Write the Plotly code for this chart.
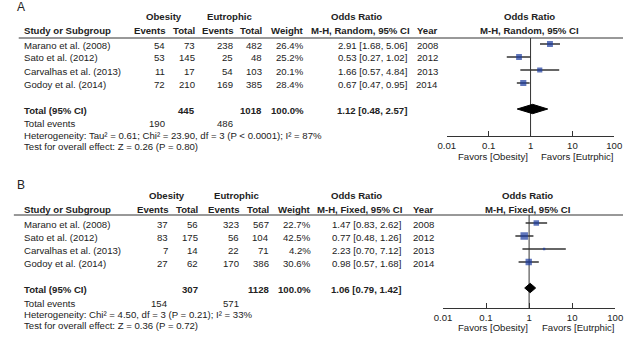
import plotly.graph_objects as go
import math

W, H = 631, 344

studies = ["Marano et al. (2008)", "Sato et al. (2012)", "Carvalhas et al. (2013)", "Godoy et al. (2014)"]
years = ["2008", "2012", "2013", "2014"]

# Panel A (random effects)
ob_events_A = [54, 53, 11, 72]
ob_total_A = [73, 145, 17, 210]
eu_events_A = [238, 25, 54, 169]
eu_total_A = [482, 48, 103, 385]
weight_A = [26.4, 25.2, 20.1, 28.4]
or_A = [2.91, 0.53, 1.66, 0.67]
lo_A = [1.68, 0.27, 0.57, 0.47]
hi_A = [5.06, 1.02, 4.84, 0.95]
tot_or_A, tot_lo_A, tot_hi_A = 1.12, 0.48, 2.57
tot_ob_total_A, tot_eu_total_A = 445, 1018
tot_ob_events_A, tot_eu_events_A = 190, 486
het_A = "Heterogeneity: Tau² = 0.61; Chi² = 23.90, df = 3 (P < 0.0001); I² = 87%"
test_A = "Test for overall effect: Z = 0.26 (P = 0.80)"

# Panel B (fixed effects)
ob_events_B = [37, 83, 7, 27]
ob_total_B = [56, 175, 14, 62]
eu_events_B = [323, 56, 22, 170]
eu_total_B = [567, 104, 71, 386]
weight_B = [22.7, 42.5, 4.2, 30.6]
or_B = [1.47, 0.77, 2.23, 0.98]
lo_B = [0.83, 0.48, 0.70, 0.57]
hi_B = [2.62, 1.26, 7.12, 1.68]
tot_or_B, tot_lo_B, tot_hi_B = 1.06, 0.79, 1.42
tot_ob_total_B, tot_eu_total_B = 307, 1128
tot_ob_events_B, tot_eu_events_B = 154, 571
het_B = "Heterogeneity: Chi² = 4.50, df = 3 (P = 0.21); I² = 33%"
test_B = "Test for overall effect: Z = 0.36 (P = 0.72)"

tick_vals = [0.01, 0.1, 1, 10, 100]
tick_text = ["0.01", "0.1", "1", "10", "100"]

FONT = "Liberation Sans, Arial, sans-serif"
TXT = "#222222"
BLUE = "#1b3a9e"
FS = 9.6

fig = go.Figure()
ann = []
shapes = []


def P(x, y):
    return x / W, 1 - y / H


def text(x, y, s, anchor="left", bold=False, size=FS):
    xp, yp = P(x, y)
    ann.append(dict(x=xp, y=yp, xref="paper", yref="paper", text=(f"<b>{s}</b>" if bold else s),
                    showarrow=False, xanchor=anchor, yanchor="middle",
                    font=dict(family=FONT, size=size, color=TXT)))


def hline(x0, x1, y, color="#333333", width=1):
    x0p, yp = P(x0, y)
    x1p, _ = P(x1, y)
    shapes.append(dict(type="line", xref="paper", yref="paper", x0=x0p, x1=x1p, y0=yp, y1=yp,
                       line=dict(color=color, width=width)))


def panel(label, yoff, top_px, cols, hdr_line_x0, row0, step, axis_y, xr, xa, ya, effect,
          studies, obe, obt, eue, eut, wt, orv, lo, hi, tor, tlo, thi, tobt, teut, tobe, teue, het, test,
          or_right, year_c, hdr_mid_c, plot_hdr_c, fav):
    c_ev1, c_t1, c_ev2, c_t2, c_w = cols
    # labels/headers
    text(6, 7 + yoff, label, size=12)
    text((c_ev1 + c_t1) / 2 - 18, 17 + yoff, "Obesity", "center", True)
    text((c_ev2 + c_t2) / 2 - 20, 17 + yoff, "Eutrophic", "center", True)
    text(13, 31 + yoff, "Study or Subgroup", "left", True)
    text(c_ev1, 31 + yoff, "Events", "right", True)
    text(c_t1, 31 + yoff, "Total", "right", True)
    text(c_ev2, 31 + yoff, "Events", "right", True)
    text(c_t2, 31 + yoff, "Total", "right", True)
    text(c_w, 31 + yoff, "Weight", "right", True)
    text(hdr_mid_c, 17 + yoff, "Odds Ratio", "center", True)
    text(hdr_mid_c + 4, 31 + yoff, f"M-H, {effect}, 95% CI", "center", True)
    text(year_c, 31 + yoff, "Year", "center", True)
    text(plot_hdr_c, 17 + yoff, "Odds Ratio", "center", True)
    text(plot_hdr_c, 31 + yoff, f"M-H, {effect}, 95% CI", "center", True)
    hline(hdr_line_x0, W, top_px)

    rows = list(range(len(studies)))
    for i in rows:
        y = row0 + step * i + 1
        text(13, y, studies[i])
        text(c_ev1, y, str(obe[i]), "right")
        text(c_t1, y, str(obt[i]), "right")
        text(c_ev2, y, str(eue[i]), "right")
        text(c_t2, y, str(eut[i]), "right")
        text(c_w, y, f"{wt[i]:.1f}%", "right")
        text(or_right, y, f"{orv[i]:.2f} [{lo[i]:.2f}, {hi[i]:.2f}]", "right")
        text(year_c, y, years[i], "center")
    tr = len(studies) + 1
    y = row0 + step * tr + 1
    text(13, y, "Total (95% CI)", "left", True)
    text(c_t1, y, str(tobt), "right", True)
    text(c_t2, y, str(teut), "right", True)
    text(c_w, y, "100.0%", "right", True)
    text(or_right, y, f"{tor:.2f} [{tlo:.2f}, {thi:.2f}]", "right", True)
    y2 = y + 14
    text(13, y2, "Total events")
    text(c_ev1, y2, str(tobe), "right")
    text(c_ev2, y2, str(teue), "right")
    text(13, y2 + 11, het)
    text(13, y2 + 22, test)
    text(fav[0], fav[2], "Favors [Obesity]", "center")
    text(fav[1], fav[2], "Favors [Eutrphic]", "center")

    # plot part
    r_top = (top_px - row0) / step
    r_bot = (axis_y - row0) / step
    xs, ys = [], []
    for i in rows:
        xs += [lo[i], hi[i], None]
        ys += [i, i, None]
    fig.add_trace(go.Scatter(x=xs, y=ys, mode="lines", line=dict(color="#333333", width=1.5),
                             xaxis=xa, yaxis=ya, hoverinfo="skip", showlegend=False))
    fig.add_trace(go.Scatter(x=[1, 1], y=[r_top, r_bot], mode="lines", line=dict(color="#333333", width=1),
                             xaxis=xa, yaxis=ya, hoverinfo="skip", showlegend=False))
    fig.add_trace(go.Scatter(x=orv, y=rows, mode="markers",
                             marker=dict(symbol="square", color=BLUE, size=[1.15 * math.sqrt(w) for w in wt],
                                         line=dict(width=0)),
                             xaxis=xa, yaxis=ya, showlegend=False))
    h = 0.36
    fig.add_trace(go.Scatter(x=[tlo, tor, thi, tor, tlo], y=[tr, tr - h, tr, tr + h, tr], mode="lines",
                             fill="toself", fillcolor="#000000", line=dict(color="#000000", width=1),
                             xaxis=xa, yaxis=ya, hoverinfo="skip", showlegend=False))
    axname = "xaxis" if xa == "x" else "xaxis" + xa[1:]
    ayname = "yaxis" if ya == "y" else "yaxis" + ya[1:]
    fig.update_layout({
        axname: dict(type="log", range=[-2, 2], domain=[xr[0] / W, xr[1] / W], anchor=ya,
                     showline=True, linecolor="#333333", linewidth=1, ticks="inside", ticklen=5,
                     tickcolor="#333333", tickvals=tick_vals, ticktext=tick_text, showgrid=False,
                     zeroline=False, tickfont=dict(family=FONT, size=FS, color=TXT), fixedrange=True),
        ayname: dict(range=[r_bot, r_top], domain=[1 - axis_y / H, 1 - top_px / H], anchor=xa,
                     visible=False, showgrid=False, zeroline=False, fixedrange=True),
    })


panel("A", 0, 38, (162, 193, 232, 262, 305), 10, 44, 13, 136, (450, 622), "x", "y", "Random",
      studies, ob_events_A, ob_total_A, eu_events_A, eu_total_A, weight_A, or_A, lo_A, hi_A,
      tot_or_A, tot_lo_A, tot_hi_A, tot_ob_total_A, tot_eu_total_A, tot_ob_events_A, tot_eu_events_A,
      het_A, test_A, 411, 430, 357, 535, (497, 584, 157))

panel("B", 178, 215, (165, 196, 238, 269, 312), 5, 223, 13, 308, (446, 623), "x2", "y2", "Fixed",
      studies, ob_events_B, ob_total_B, eu_events_B, eu_total_B, weight_B, or_B, lo_B, hi_B,
      tot_or_B, tot_lo_B, tot_hi_B, tot_ob_total_B, tot_eu_total_B, tot_ob_events_B, tot_eu_events_B,
      het_B, test_B, 405, 426, 357, 533, (497, 585, 327))

fig.update_layout(width=W, height=H, margin=dict(l=0, r=0, t=0, b=0), paper_bgcolor="white",
                  plot_bgcolor="white", annotations=ann, shapes=shapes, showlegend=False,
                  font=dict(family=FONT, size=FS, color=TXT))
fig.write_html("out.html")
